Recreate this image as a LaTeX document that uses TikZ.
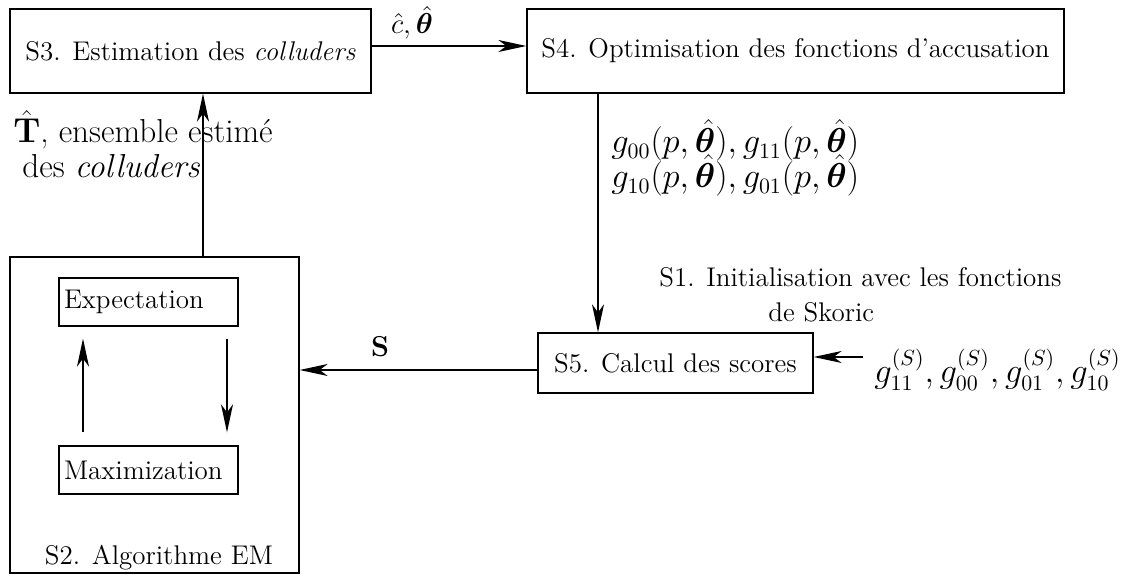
\documentclass[tikz,border=0pt]{standalone}
\usepackage{amsmath,amssymb,bm}
\usetikzlibrary{arrows.meta}
\begin{document}
\begin{tikzpicture}[x=0.5pt,y=-0.5pt,
  every node/.style={font=\fontsize{13.5}{17.5}\selectfont},
  box/.style={draw, line width=0.65pt, inner sep=0pt, align=center},
  sbox/.style={draw, line width=0.65pt, inner xsep=2.5pt, inner ysep=0pt, text width=84.5pt, align=left, minimum height=24pt},
  arr/.style={line width=0.65pt, -{Stealth[length=14pt,width=6pt,inset=4pt]}},
  lbl/.style={inner sep=0pt}]
\useasboundingbox (0,0) rectangle (1131,576);
\node[box, minimum width=180.5pt, minimum height=42pt] (s3) at (190.5,51) {S3. Estimation des \textit{colluders}};
\node[box, minimum width=268.5pt, minimum height=42pt] (s4) at (795.5,51) {S4. Optimisation des fonctions d'accusation};
\node[box, minimum width=137.5pt, minimum height=30pt] (s5) at (675.5,363) {S5. Calcul des scores};
\node[box, minimum width=144.5pt, minimum height=158pt] (em) at (154.5,415) {};
\node[lbl, anchor=base] (s2) at (159,565) {S2. Algorithme EM};
\node[sbox] (exp) at (148.5,302) {Expectation};
\node[sbox] (max) at (148.5,470) {Maximization};
\coordinate (ax) at (203,0);
\coordinate (bx) at (598,0);
\coordinate (cy) at (0,370);
\coordinate (gin) at (863,357);
\coordinate (u1) at (83,0);
\coordinate (u2) at (227,0);
% connectors
\draw[arr] ([yshift=2.5pt]s3.east) -- ([yshift=2.5pt]s4.west);
\draw[arr] (em.north -| ax) -- (s3.south -| ax);
\draw[arr] (s4.south -| bx) -- (s5.north -| bx);
\draw[arr] (s5.west |- cy) -- (em.east |- cy);
\draw[arr] (gin) -- (s5.east |- gin);
\draw[arr, shorten <=6.5pt, shorten >=6pt] (max.north -| u1) -- (exp.south -| u1);
\draw[arr, shorten <=6pt, shorten >=6.5pt] (exp.south -| u2) -- (max.north -| u2);
% labels
\node[lbl, anchor=base, font=\fontsize{15.3}{18}\selectfont] (lc) at (412,34) {$\hat{c},\hat{\bm{\theta}}$};
\node[lbl, align=left, anchor=base west, font=\fontsize{16.6}{17.5}\selectfont] (lt) at (13,178) {$\hat{\mathbf{T}}$, ensemble estimé\\\hspace*{4.5pt}des \textit{colluders}};
\node[lbl, align=left, anchor=base west, font={\fontsize{16.1}{15.5}\selectfont\lineskiplimit=-100pt\relax}] (lg) at (611,188) {$g_{00}(p,\hat{\bm{\theta}}),g_{11}(p,\hat{\bm{\theta}})$\\[2pt]$g_{10}(p,\hat{\bm{\theta}}),g_{01}(p,\hat{\bm{\theta}})$};
\node[lbl, align=left, anchor=base west] (ls1) at (659,322) {S1. Initialisation avec les fonctions\\\hspace*{54.5pt}de Skoric};
\node[lbl, anchor=base west, font=\fontsize{15.9}{20}\selectfont] (lgs) at (874,383) {$g_{11}^{(S)},g_{00}^{(S)},g_{01}^{(S)},g_{10}^{(S)}$};
\node[lbl, anchor=base] (ls) at (380,357) {$\mathbf{S}$};
\end{tikzpicture}
\end{document}
